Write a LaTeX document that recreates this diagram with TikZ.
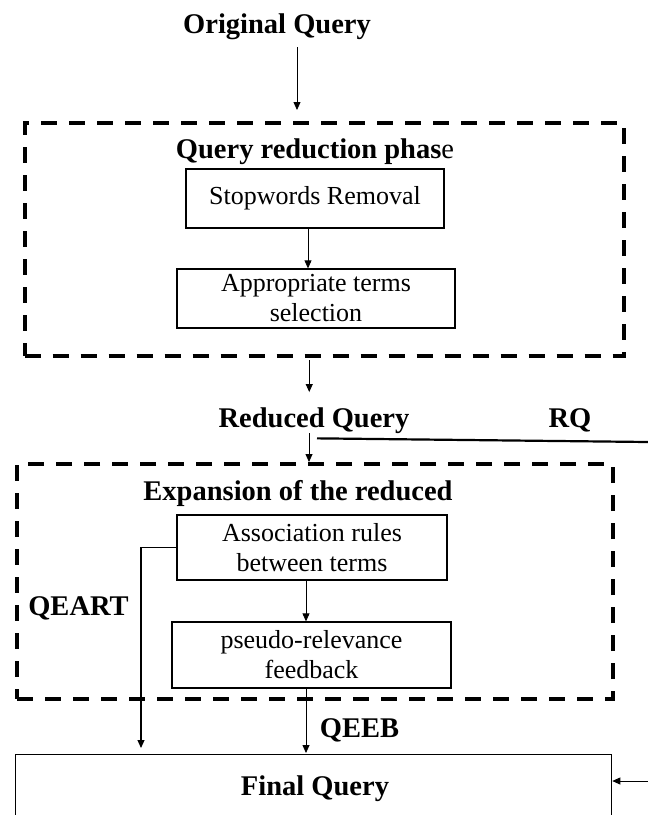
\documentclass[tikz,border=0pt]{standalone}
\usepackage{fontspec}
\setmainfont{Liberation Serif}
\usetikzlibrary{arrows.meta}
\begin{document}
\begin{tikzpicture}[x=1pt,y=-1pt,
  bt/.style={font=\fontsize{28.5}{30}\selectfont\bfseries, inner sep=0pt, anchor=base},
  box/.style={draw, line width=1.3pt, font=\fontsize{26}{30}\selectfont, align=center, inner sep=0pt},
  phase/.style={draw, line width=4pt, dash pattern=on 16pt off 12pt, inner sep=0pt, anchor=north west},
  arr/.style={-{Triangle[length=8pt,width=7pt]}, line width=0.8pt},
  rqline/.style={line width=2.2pt},
]
\useasboundingbox (0,0) rectangle (648,815);

% titles and labels
\node[bt] (orig) at (277,33) {Original Query};
\node[bt] (qrp) at (315,158) {Query reduction phas\mdseries e};
\node[bt] (redq) at (314,427) {Reduced Query};
\node[bt] (rq) at (570,427) {RQ};
\node[bt] (expt) at (298,500) {Expansion of the reduced};
\node[bt] (qeart) at (78.5,615) {QEART};
\node[bt] (qeeb) at (359.5,737) {QEEB};

% dashed phase frames
\node[phase, minimum width=599.5pt, minimum height=233pt] (red) at (22.5,121) {};
\node[phase, minimum width=596pt, minimum height=235pt] (exp) at (15,462) {};

% boxes
\node[box, minimum width=258pt, minimum height=59pt] (stop) at (315,198.5) {Stopwords Removal};
\node[box, minimum width=278pt, minimum height=59pt] (app) at (316,298.5) {Appropriate terms\\selection};
\node[box, minimum width=270pt, minimum height=65pt] (assoc) at (312,547.5) {Association rules\\between terms};
\node[box, minimum width=279pt, minimum height=66pt] (pseudo) at (311.5,655) {pseudo-relevance\\feedback};

% final query box (bottom edge lies below the page)
\node[draw, line width=1.3pt, inner sep=0pt, anchor=north west, minimum width=596pt, minimum height=100pt] (final) at (15,754) {};
\node[bt] (finalt) at (315,795) {Final Query};

% free ends at the page edge
\coordinate (rqout) at (648,442);
\coordinate (rqin) at (648,781);

% connectors
\draw[arr, shorten <=8pt, shorten >=11pt] ([xshift=20pt]orig.south) -- ([xshift=20pt]orig.south |- red.north);
\draw[arr] ([xshift=-7pt]stop.south) -- ([xshift=-7pt]stop.south |- app.north);
\draw[arr, shorten <=2pt, shorten >=15pt] ([xshift=-15pt]red.south) -- ([xshift=-15pt]red.south |- redq.north);
\draw[arr] ([xshift=-5pt]redq.south) -- ([xshift=-5pt]redq.south |- exp.north);
\draw[rqline] ([xshift=3pt,yshift=-5pt]redq.south) -- (rqout);
\draw[arr] ([xshift=-6pt]assoc.south) -- ([xshift=-6pt]assoc.south |- pseudo.north);
\draw[arr, line width=1.1pt, shorten >=6pt] (assoc.west) -| ([xshift=126pt]final.north west);
\draw[arr, shorten >=1pt] ([xshift=-5.5pt]pseudo.south) -- ([xshift=-5.5pt]pseudo.south |- final.north);
\draw[arr] (rqin) -- (rqin -| final.east);
\end{tikzpicture}
\end{document}
